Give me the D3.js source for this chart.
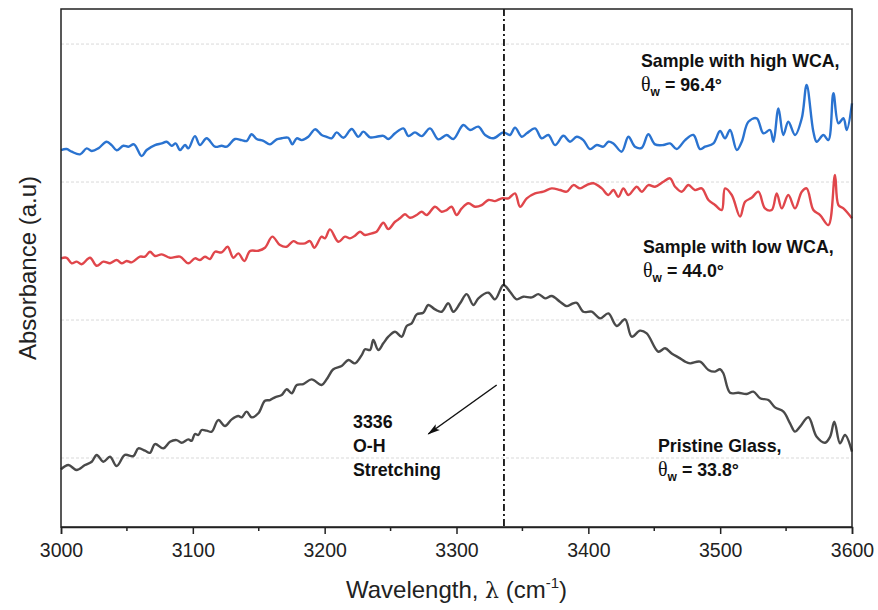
<!DOCTYPE html>
<html>
<head>
<meta charset="utf-8">
<script src="https://cdn.jsdelivr.net/npm/d3@7"></script>
<style>
  body { margin: 0; background: #fff; }
  svg text { font-family: "Liberation Sans", Arial, sans-serif; }
</style>
</head>
<body>
<svg id="chart" width="878" height="610"></svg>
<script>
// Spectra (wavenumber in cm-1, absorbance in a.u., offset per trace)
const blueWn = [3000,3004.3,3008.1,3014.4,3019.5,3023.3,3028.3,3034.6,3038.4,3042.2,
  3047.3,3051.1,3055.4,3061.2,3065,3071.3,3076.4,3080.2,3083.9,3087,
  3090.3,3094.1,3096.6,3101.6,3105.4,3110.5,3116.8,3121.9,3125.7,3132,
  3137,3140.8,3144.6,3148.4,3153.5,3158.5,3163.6,3167.4,3172.4,3175.5,
  3178.8,3182.6,3187.6,3192.7,3197.7,3201.5,3205.3,3209.1,3214.2,3220.5,
  3225.5,3229.3,3234.4,3239.4,3244.5,3248.3,3253.4,3259.7,3263.5,3268.5,
  3273.6,3279.9,3286.2,3292.5,3297.6,3305.2,3310.3,3316.6,3321.7,3328,
  3335.6,3340.6,3344.4,3349.5,3353.3,3359.6,3364.6,3369.7,3374.8,3381.1,
  3386.1,3391.2,3396.2,3401.3,3406.4,3411.4,3415.2,3419,3425.3,3430.4,
  3435.4,3440.5,3445.5,3450.6,3456.9,3462,3467,3473.4,3479.7,3484.7,
  3488.5,3494.9,3499.9,3503.7,3507.5,3512.6,3516.4,3521.4,3527.7,3532.8,
  3537.8,3540.4,3544.2,3547.9,3551.7,3556.8,3561.9,3565.6,3570.7,3573.2,
  3578.3,3582.1,3585.9,3589.7,3593.5,3596,3600];
const blueAbs = [2.732,2.739,2.720,2.701,2.744,2.725,2.744,2.792,2.768,2.730,
  2.763,2.756,2.773,2.688,2.732,2.768,2.780,2.792,2.763,2.780,
  2.732,2.768,2.744,2.833,2.768,2.817,2.756,2.763,2.756,2.812,
  2.804,2.797,2.846,2.812,2.799,2.773,2.809,2.817,2.821,2.773,
  2.817,2.804,2.828,2.882,2.841,2.828,2.817,2.860,2.821,2.884,
  2.828,2.865,2.824,2.828,2.835,2.812,2.853,2.889,2.833,2.860,
  2.833,2.889,2.809,2.841,2.812,2.913,2.877,2.901,2.841,2.817,
  2.860,2.841,2.894,2.828,2.853,2.889,2.817,2.841,2.768,2.835,
  2.792,2.828,2.804,2.739,2.768,2.756,2.792,2.780,2.720,2.828,
  2.756,2.748,2.846,2.773,2.768,2.780,2.739,2.804,2.841,2.739,
  2.756,2.780,2.870,2.817,2.877,2.732,2.792,2.937,2.962,2.853,
  2.877,2.792,3.034,2.841,2.937,2.841,2.962,3.203,2.864,2.792,
  2.841,2.804,3.143,2.925,2.962,2.877,3.070];

const redWn = [3000,3004.3,3008.1,3011.9,3015.7,3022,3027.1,3032.1,3037.2,3042.2,
  3046,3049.8,3053.6,3059.9,3063.7,3067.5,3071.3,3076.4,3082.7,3090.3,
  3096.6,3101.6,3105.4,3109.2,3113,3116.8,3121.9,3126.4,3130.7,3134.5,
  3139.1,3143.4,3149.7,3154.7,3160.3,3166.1,3171.2,3176.2,3180,3185.1,
  3188.9,3192.2,3197.7,3200.3,3204,3210.4,3215.4,3219.2,3223,3226.8,
  3230.6,3235.7,3239.4,3244.5,3248.3,3253.4,3257.1,3260.9,3264.7,3269.8,
  3273.6,3277.4,3283.7,3288.7,3292.5,3296.3,3300.1,3304,3309,3314.1,
  3319.1,3324.2,3329.2,3334.3,3339.4,3344.4,3348.2,3353.3,3359.6,3365.9,
  3372.2,3378.5,3383.6,3388.7,3393.7,3398.8,3403.8,3410.2,3415.2,3419,
  3422.8,3426.6,3430.4,3436.7,3440.5,3445.5,3450.6,3456.9,3462,3465.8,
  3470.8,3475.9,3480.9,3486,3491.1,3496.1,3501.2,3503.7,3508.8,3515.1,
  3518.9,3523.9,3529,3534,3539.1,3542.9,3546.7,3551.7,3556.8,3561.9,
  3565.6,3570.7,3575.8,3582.1,3587.1,3589.7,3593.5,3600];
const redAbs = [1.947,1.951,1.911,1.923,1.904,1.951,1.893,1.923,1.911,1.935,
  1.911,1.928,1.918,1.959,1.959,1.995,1.964,1.976,1.951,1.959,
  1.911,1.947,1.935,1.959,1.942,1.995,1.990,2.031,1.951,1.983,
  1.928,2.000,2.002,2.024,2.104,2.043,2.031,2.072,2.056,2.056,
  2.072,2.024,2.104,2.092,2.157,2.067,2.104,2.092,2.111,2.140,
  2.116,2.128,2.140,2.205,2.159,2.212,2.237,2.266,2.241,2.261,
  2.285,2.261,2.321,2.285,2.297,2.321,2.261,2.309,2.346,2.321,
  2.333,2.370,2.362,2.382,2.382,2.418,2.321,2.382,2.418,2.430,
  2.454,2.442,2.430,2.478,2.454,2.478,2.491,2.454,2.406,2.442,
  2.393,2.454,2.406,2.466,2.430,2.478,2.466,2.502,2.527,2.466,
  2.430,2.478,2.442,2.454,2.370,2.333,2.297,2.454,2.406,2.249,
  2.357,2.386,2.430,2.309,2.297,2.418,2.309,2.406,2.309,2.430,
  2.454,2.297,2.261,2.188,2.551,2.333,2.309,2.237];

const grayWn = [3000,3005.6,3011.9,3018.2,3023.3,3027.1,3032.1,3037.2,3042.2,3048.5,
  3054.9,3058.7,3063.7,3067.5,3071.3,3077.6,3082.7,3087.7,3091.5,3096.6,
  3099.1,3101.6,3104.2,3106.7,3110.5,3114.3,3119.3,3124.4,3129.5,3134.5,
  3137,3140.8,3144.6,3149.7,3154.7,3158.5,3162.3,3167.4,3171.2,3175,
  3178.8,3183.8,3190.1,3197.7,3201.5,3206.6,3212.9,3218,3223,3228.1,
  3230.6,3234.4,3236.9,3240.7,3244.5,3248.3,3253.4,3258.4,3262.2,3266,
  3269.8,3274.8,3278.6,3283.7,3288.7,3293.8,3297.6,3302.7,3307.7,3312.8,
  3316.6,3324.2,3329.2,3335.6,3340.6,3345.7,3350.7,3357.1,3362.1,3367.2,
  3372.2,3378.5,3383.6,3387.4,3391.2,3396.2,3402.6,3408.9,3415.2,3421.5,
  3427.9,3432.9,3439.2,3444.3,3453.1,3458.2,3463.2,3469.6,3473.4,3477.2,
  3484.7,3491.1,3496.1,3499.9,3502.4,3507.5,3513.8,3520.1,3525.2,3530.3,
  3536.6,3541.6,3548,3553,3556.8,3560.6,3566.9,3573.2,3579.6,3583.4,
  3586.6,3590.9,3594.7,3600];
const grayAbs = [0.418,0.449,0.413,0.449,0.473,0.522,0.473,0.509,0.442,0.522,
  0.514,0.570,0.553,0.538,0.601,0.570,0.618,0.630,0.611,0.635,
  0.625,0.674,0.667,0.703,0.698,0.691,0.775,0.732,0.780,0.804,
  0.795,0.836,0.795,0.824,0.915,0.920,0.940,0.957,0.998,0.969,
  1.029,1.036,1.070,1.029,1.070,1.143,1.167,1.210,1.186,1.246,
  1.288,1.283,1.355,1.283,1.331,1.379,1.415,1.379,1.457,1.476,
  1.541,1.553,1.609,1.577,1.560,1.621,1.560,1.621,1.688,1.609,
  1.657,1.698,1.650,1.754,1.705,1.650,1.669,1.664,1.688,1.657,
  1.674,1.633,1.601,1.616,1.625,1.560,1.560,1.512,1.548,1.457,
  1.505,1.379,1.423,1.403,1.270,1.295,1.258,1.222,1.198,1.186,
  1.198,1.138,1.126,1.143,1.114,0.973,0.973,0.964,0.981,0.933,
  0.920,0.867,0.836,0.751,0.691,0.727,0.795,0.654,0.611,0.654,
  0.763,0.606,0.667,0.546];

const xTicks = [3000, 3100, 3200, 3300, 3400, 3500, 3600];
const xMinorTicks = [3050, 3150, 3250, 3350, 3450, 3550];
const gridLevels = [0.5, 1.5, 2.5, 3.5];
const peakWn = 3336;
const sampleNames = ["Sample with high WCA,", "Sample with low WCA,", "Pristine Glass,"];
const sampleAngles = ["96.4°", "44.0°", "33.8°"];
const peakLabel = ["3336", "O-H", "Stretching"];

// Chart frame
const margin = {top: 9, right: 26, bottom: 83, left: 61};
const width = 878, height = 610;
const svg = d3.select("#chart");

const x = d3.scaleLinear().domain([3000, 3600]).range([margin.left, width - margin.right]);
const y = d3.scaleLinear().domain([0, 3.754]).range([height - margin.bottom, margin.top]);

// grid lines
svg.append("g").selectAll("line")
  .data(gridLevels)
  .enter().append("line")
  .attr("x1", margin.left).attr("x2", width - margin.right)
  .attr("y1", d => y(d)).attr("y2", d => y(d))
  .attr("stroke", "#d9d9d9")
  .attr("stroke-width", 1)
  .attr("stroke-dasharray", "3,2");

// spectra
const line = d3.line()
  .x(d => x(d[0]))
  .y(d => y(d[1]))
  .curve(d3.curveCatmullRom.alpha(0.5));

const traces = [
  {wn: grayWn, abs: grayAbs, color: "#4a4a4a"},
  {wn: redWn, abs: redAbs, color: "#e0464b"},
  {wn: blueWn, abs: blueAbs, color: "#2a73d0"}
];
traces.forEach(t => {
  svg.append("path")
    .datum(d3.zip(t.wn, t.abs))
    .attr("fill", "none")
    .attr("stroke", t.color)
    .attr("stroke-width", 2.4)
    .attr("stroke-linejoin", "round")
    .attr("d", line);
});

// dash-dot line at the O-H peak
svg.append("line")
  .attr("x1", x(peakWn)).attr("x2", x(peakWn))
  .attr("y1", margin.top).attr("y2", height - margin.bottom)
  .attr("stroke", "#111")
  .attr("stroke-width", 1.8)
  .attr("stroke-dasharray", "7,3,2,3");

// frame
svg.append("rect")
  .attr("x", margin.left).attr("y", margin.top)
  .attr("width", width - margin.left - margin.right)
  .attr("height", height - margin.top - margin.bottom)
  .attr("fill", "none")
  .attr("stroke", "#222")
  .attr("stroke-width", 1.5);

// x axis
const xAxis = svg.append("g")
  .attr("transform", `translate(0,${height - margin.bottom})`)
  .call(d3.axisBottom(x).tickValues(xTicks).tickSize(7).tickPadding(9).tickFormat(d3.format("d")));
xAxis.select(".domain").attr("stroke", "#222").attr("stroke-width", 1.5);
xAxis.selectAll(".tick line").attr("stroke", "#222").attr("stroke-width", 1.5);
xAxis.selectAll(".tick text")
  .attr("font-size", "19.5px")
  .attr("fill", "#222")
  .style("font-family", "'Liberation Sans', Arial, sans-serif");

svg.append("g").selectAll("line")
  .data(xMinorTicks)
  .enter().append("line")
  .attr("x1", d => x(d)).attr("x2", d => x(d))
  .attr("y1", height - margin.bottom).attr("y2", height - margin.bottom + 4)
  .attr("stroke", "#222").attr("stroke-width", 1.5);

// axis titles
const xTitle = svg.append("text")
  .attr("x", (margin.left + width - margin.right) / 2)
  .attr("y", 598)
  .attr("text-anchor", "middle")
  .attr("font-size", "24px")
  .attr("fill", "#222");
xTitle.append("tspan").text("Wavelength, ");
xTitle.append("tspan").style("font-family", "'DejaVu Serif', serif").attr("font-size", "22px").text("λ");
xTitle.append("tspan").text(" (cm");
xTitle.append("tspan").attr("font-size", "15px").attr("dy", -10).text("-1");
xTitle.append("tspan").attr("dy", 10).text(")");

svg.append("text")
  .attr("transform", `translate(36,${(margin.top + height - margin.bottom) / 2}) rotate(-90)`)
  .attr("text-anchor", "middle")
  .attr("font-size", "24px")
  .attr("fill", "#222")
  .text("Absorbance (a.u)");

// sample labels
const labelPos = [[641, 67], [643, 253], [658, 452]];
sampleNames.forEach((name, i) => {
  const g = svg.append("g")
    .attr("transform", `translate(${labelPos[i][0]},${labelPos[i][1]})`)
    .attr("fill", "#111");
  g.append("text")
    .attr("font-size", "17.8px").attr("font-weight", "bold")
    .text(name);
  const t = g.append("text").attr("y", 24).attr("font-size", "17.8px").attr("font-weight", "bold");
  t.append("tspan").style("font-family", "'Liberation Serif', 'Times New Roman', serif")
    .attr("font-weight", "normal").attr("font-size", "20px").text("θ");
  t.append("tspan").attr("font-size", "12px").attr("dy", 5).text("w");
  t.append("tspan").attr("dy", -5).text(" = " + sampleAngles[i]);
});

// peak annotation
const peakText = svg.append("text")
  .attr("x", 353).attr("y", 428)
  .attr("font-size", "17.8px").attr("font-weight", "bold")
  .attr("fill", "#111");
peakLabel.forEach((s, i) => {
  peakText.append("tspan").attr("x", 353).attr("dy", i === 0 ? 0 : 24).text(s);
});

svg.append("defs").append("marker")
  .attr("id", "arrowhead")
  .attr("viewBox", "0 0 14 10")
  .attr("refX", 13).attr("refY", 5)
  .attr("markerWidth", 14).attr("markerHeight", 9)
  .attr("markerUnits", "userSpaceOnUse")
  .attr("orient", "auto")
  .append("path")
  .attr("d", "M0,1 L14,5 L0,9 L3,5 Z")
  .attr("fill", "#111");

// arrow runs from the dashed line down-left toward the label
svg.append("line")
  .attr("x1", x(3330.5)).attr("y1", y(1.029))
  .attr("x2", x(3278.6)).attr("y2", y(0.674))
  .attr("stroke", "#111")
  .attr("stroke-width", 1.5)
  .attr("marker-end", "url(#arrowhead)");
</script>
</body>
</html>
